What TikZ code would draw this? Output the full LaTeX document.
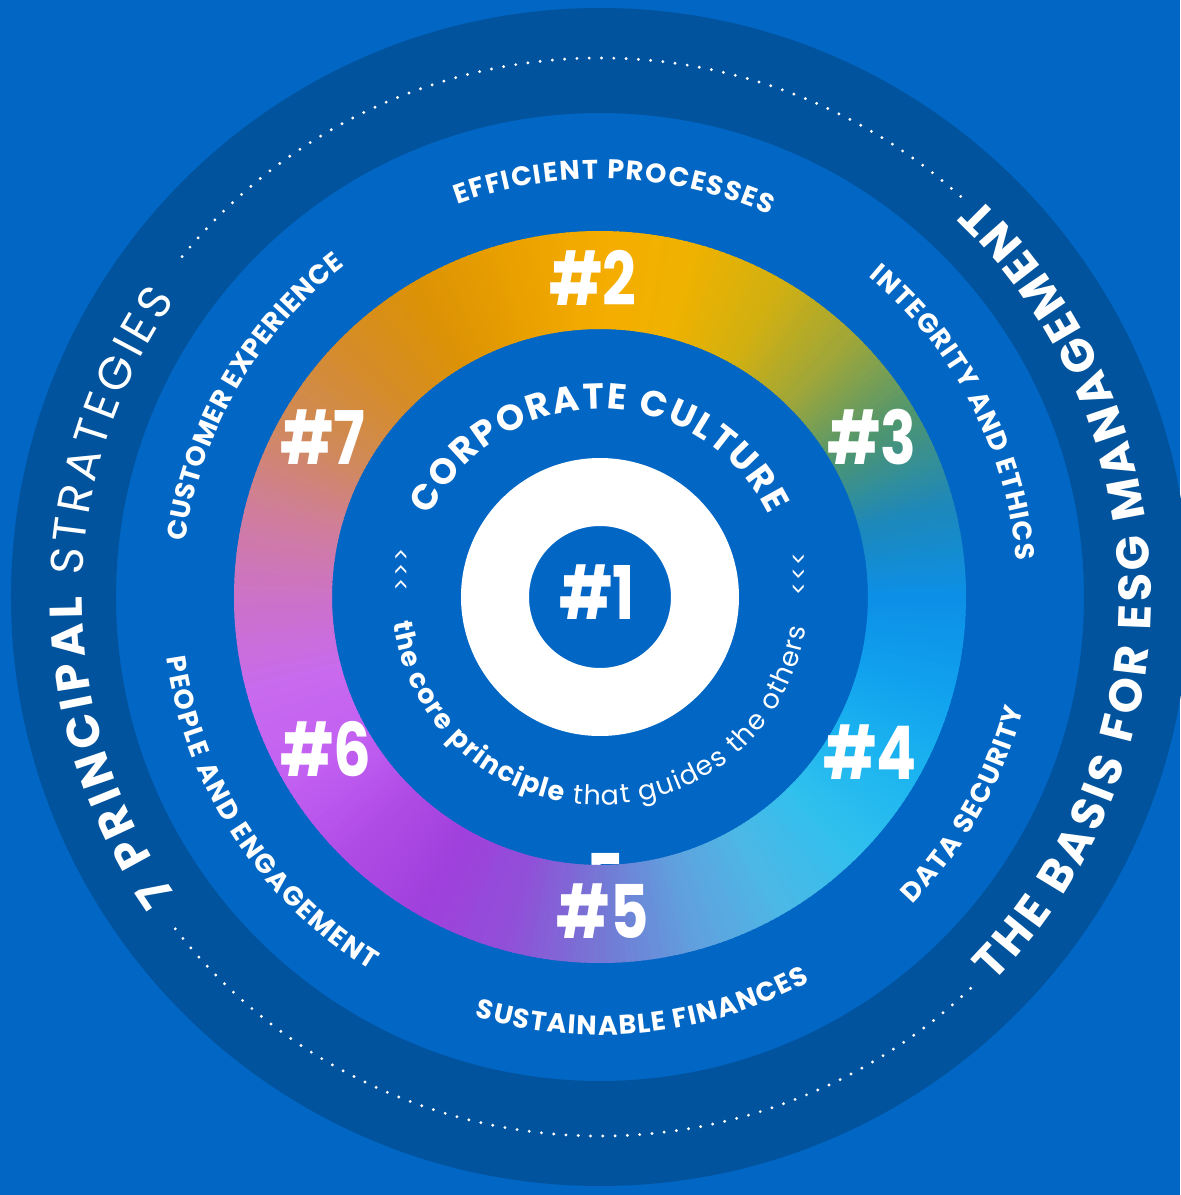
\documentclass[tikz,border=0pt]{standalone}
\usepackage{fontspec}
\setmainfont{Poppins}
\usetikzlibrary{decorations.text}

\definecolor{bgblue}{RGB}{2,102,196}
\definecolor{bandblue}{RGB}{0,83,156}
% colours of the wheel, one every 15 degrees
\definecolor{w0}{HTML}{0C8FE6}
\definecolor{w15}{HTML}{1E88B8}
\definecolor{w30}{HTML}{4E9670}
\definecolor{w45}{HTML}{9EA63A}
\definecolor{w60}{HTML}{D2B010}
\definecolor{w75}{HTML}{F0B200}
\definecolor{w90}{HTML}{F5AC00}
\definecolor{w105}{HTML}{E9A000}
\definecolor{w120}{HTML}{DC9205}
\definecolor{w135}{HTML}{D58C28}
\definecolor{w150}{HTML}{D08A58}
\definecolor{w165}{HTML}{CF7E9A}
\definecolor{w180}{HTML}{CC72C8}
\definecolor{w195}{HTML}{C86AEE}
\definecolor{w210}{HTML}{C260F2}
\definecolor{w225}{HTML}{B04CE6}
\definecolor{w240}{HTML}{A040DC}
\definecolor{w255}{HTML}{9050D8}
\definecolor{w270}{HTML}{7478D4}
\definecolor{w285}{HTML}{60A0DE}
\definecolor{w300}{HTML}{4CB8E6}
\definecolor{w315}{HTML}{30C0EE}
\definecolor{w330}{HTML}{1CB4F0}
\definecolor{w345}{HTML}{10A0EE}

\def\rBandOut{589}
\def\rBandIn{484}
\def\rDots{539}
\def\rWheelOut{366}
\def\rWheelIn{268}
\def\rCoreOut{139}
\def\rCoreIn{71}

\def\bigfont{\fontsize{23}{23}\selectfont}
\def\labelfont{\fontsize{13.5}{13.5}\selectfont\bfseries}
\def\culturefont{\fontsize{18}{18}\selectfont\bfseries}
\def\corefont{\fontsize{13.5}{13.5}\selectfont}

\tikzset{
  curved/.style={decorate, decoration={text along path, text align={fit to path},
      text color=white, text={#1}}},
  dotline/.style={draw=white, line width=1.6pt, line cap=round,
      dash pattern=on 0pt off 6.15pt},
  hashnum/.style={text=white, font=\fontsize{37}{37}\selectfont\bfseries,
      inner sep=0pt, xscale=0.8},
  chevrons/.style={text=white, font=\fontsize{12}{12}\selectfont, inner sep=0pt}
}

\begin{document}
\begin{tikzpicture}[x=0.5pt, y=0.5pt]
  \useasboundingbox (-600,-598) rectangle (580,597);
  \fill[bgblue] (-600,-598) rectangle (580,597);

  % outer band with its two dotted arcs
  \fill[bandblue, even odd rule] (0,0) circle[radius=\rBandOut] (0,0) circle[radius=\rBandIn];
  \draw[dotline] (48:\rDots) arc[start angle=48, end angle=141, radius=\rDots];
  \draw[dotline] (218:\rDots) arc[start angle=218, end angle=314, radius=\rDots];

  % stray digit, mostly hidden under the wheel
  \node[hashnum] (stray) at (6,-283) {5};

  % colour wheel: thin wedges, each colour mixed into the next
  \foreach \a/\ca/\cb in {0/w0/w15, 15/w15/w30, 30/w30/w45, 45/w45/w60,
      60/w60/w75, 75/w75/w90, 90/w90/w105, 105/w105/w120, 120/w120/w135,
      135/w135/w150, 150/w150/w165, 165/w165/w180, 180/w180/w195,
      195/w195/w210, 210/w210/w225, 225/w225/w240, 240/w240/w255,
      255/w255/w270, 270/w270/w285, 285/w285/w300, 300/w300/w315,
      315/w315/w330, 330/w330/w345, 345/w345/w0} {
    \foreach \t in {0,...,14} {
      \pgfmathtruncatemacro\p{100-\t*100/15}   % share of the first colour
      \fill[\ca!\p!\cb] (\a+\t:\rWheelIn) -- (\a+\t:\rWheelOut)
        arc[start angle=\a+\t, end angle=\a+\t+1.4, radius=\rWheelOut]
        -- (\a+\t+1.4:\rWheelIn)
        arc[start angle=\a+\t+1.4, end angle=\a+\t, radius=\rWheelIn] -- cycle;
    }
  }

  % white core
  \fill[white, even odd rule] (0,0) circle[radius=\rCoreOut] (0,0) circle[radius=\rCoreIn];
  \node[hashnum] (num1) at (-3,5) {\#1};

  % numbers on the wheel
  \foreach \n/\x/\y in {2/-7/319, 3/272/160, 4/270/-155, 5/3/-314, 6/-274/-152, 7/-277/160}
    \node[hashnum] (num\n) at (\x,\y) {\#\n};

  % band titles
  \path[curved={|\bigfont\bfseries|7 PRINCIPAL|\bigfont| STRATEGIES}]
    (215:518) arc[start angle=215, end angle=145, radius=518];
  \path[curved={|\bigfont\bfseries|THE BASIS FOR ESG MANAGEMENT}]
    (-44.4:551) arc[start angle=-44.4, end angle=46.5, radius=551];

  % strategy labels: clockwise ones read along the top, the others along the bottom
  \path[curved={|\labelfont|EFFICIENT PROCESSES}]
    (110:418) arc[start angle=110, end angle=66, radius=418];
  \path[curved={|\labelfont|INTEGRITY AND ETHICS}]
    (50:418) arc[start angle=50, end angle=5, radius=418];
  \path[curved={|\labelfont|CUSTOMER EXPERIENCE}]
    (172.4:418) arc[start angle=172.4, end angle=127.6, radius=418];
  \path[curved={|\labelfont|DATA SECURITY}]
    (-44.5:438) arc[start angle=-44.5, end angle=-14.8, radius=438];
  \path[curved={|\labelfont|SUSTAINABLE FINANCES}]
    (253.4:438) arc[start angle=253.4, end angle=298.6, radius=438];
  \path[curved={|\labelfont|PEOPLE AND ENGAGEMENT}]
    (188:438) arc[start angle=188, end angle=238.4, radius=438];

  % inner circle
  \path[curved={|\culturefont|CORPORATE CULTURE}]
    (154.5:188) arc[start angle=154.5, end angle=26, radius=188];
  \path[curved={|\corefont\bfseries|the core principle|\corefont| that guides the others}]
    (187:208) arc[start angle=187, end angle=351.5, radius=208];
  \node[chevrons, rotate=-90] (chevl) at (-200,27) {<\kern1pt<\kern1pt<};
  \node[chevrons, rotate=90] (chevr) at (200,23) {<\kern1pt<\kern1pt<};
\end{tikzpicture}
\end{document}
